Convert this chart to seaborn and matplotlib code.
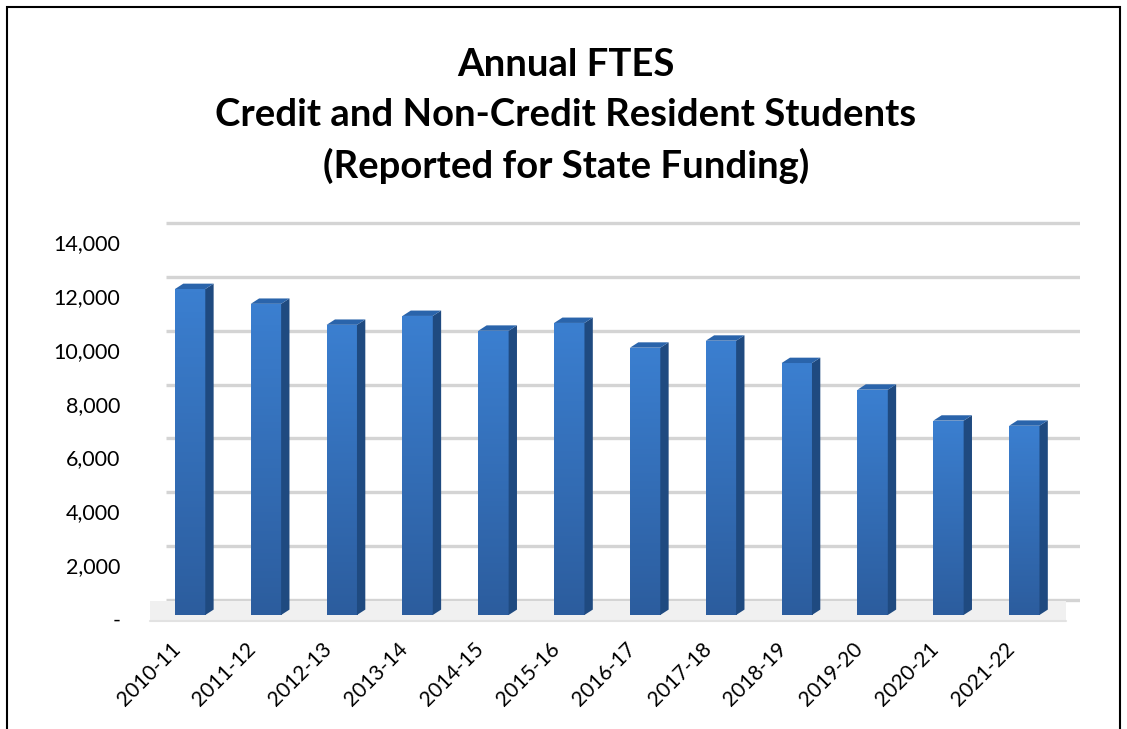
import numpy as np
import pandas as pd
import matplotlib
matplotlib.use("Agg")
import matplotlib.pyplot as plt
import matplotlib.transforms as mtransforms
from matplotlib.patches import Polygon, Rectangle
from matplotlib.colors import LinearSegmentedColormap
import seaborn as sns

years = ["2010-11", "2011-12", "2012-13", "2013-14", "2014-15", "2015-16",
         "2016-17", "2017-18", "2018-19", "2019-20", "2020-21", "2021-22"]
ftes = [12110, 11560, 10780, 11110, 10560, 10850,
        9930, 10190, 9360, 8370, 7220, 7030]
y_ticks = [0, 2000, 4000, 6000, 8000, 10000, 12000, 14000]
y_labels = ["-", "2,000", "4,000", "6,000", "8,000", "10,000", "12,000", "14,000"]

df = pd.DataFrame({"year": years, "ftes": ftes})

sns.set_style("white")
plt.rcParams["font.family"] = ["Lato", "DejaVu Sans"]
plt.rcParams["text.color"] = "black"
plt.rcParams["xtick.color"] = "black"
plt.rcParams["ytick.color"] = "black"

fig = plt.figure(figsize=(11.27, 7.29), dpi=100)
ax = fig.add_axes([0.129, 0.1427, 0.829, 0.558])

# back wall gridlines (sit a bit higher than the front plane, like the 3D original)
back = mtransforms.offset_copy(ax.get_yaxis_transform(), fig=fig, x=0, y=15, units="dots")
for t in y_ticks:
    ax.plot([0.022, 1.0], [t, t], color="#d4d4d4", lw=2.4, transform=back,
            zorder=0, solid_capstyle="butt")

# floor
ax.axhspan(-230, 520, xmin=0.005, xmax=0.985, color="#f0f0f0", zorder=0.5, lw=0)
ax.axhline(-230, xmin=0.005, xmax=0.985, color="#e2e2e2", lw=1.5, zorder=0.6)

sns.barplot(data=df, x="year", y="ftes", color="#3574c4", width=0.4,
            saturation=1, ax=ax, zorder=2)

grad = LinearSegmentedColormap.from_list("g", ["#2c5d9e", "#3b7fd0"])
dx = 0.11
dy = 200
for p in ax.containers[0]:
    x0, w, h = p.get_x(), p.get_width(), p.get_height()
    x1 = x0 + w
    p.set_edgecolor("none")
    img = ax.imshow(np.linspace(0, 1, 100).reshape(-1, 1), cmap=grad,
                    extent=[x0, x1, 0, h], origin="lower", aspect="auto",
                    zorder=2.1)
    img.set_clip_path(p)
    side = Polygon([(x1, 0), (x1 + dx, dy), (x1 + dx, h + dy), (x1, h)],
                   closed=True, facecolor="#1f4a80", edgecolor="none", zorder=2.2)
    top = Polygon([(x0, h), (x0 + dx, h + dy), (x1 + dx, h + dy), (x1, h)],
                  closed=True, facecolor="#2a64ab", edgecolor="none", zorder=2.2)
    ax.add_patch(side)
    ax.add_patch(top)

ax.set_xlim(-0.59, 11.73)
ax.set_ylim(-371, 14742)
ax.set_yticks(y_ticks)
ax.set_yticklabels(y_labels, fontsize=15.5)
ax.tick_params(axis="y", length=0, pad=18)
ax.tick_params(axis="x", length=0, pad=10)
shift_y = mtransforms.ScaledTranslation(0, -4 / 100, fig.dpi_scale_trans)
for lab in ax.get_yticklabels():
    lab.set_transform(lab.get_transform() + shift_y)
shift_x = mtransforms.ScaledTranslation(-20 / 100, 0, fig.dpi_scale_trans)
for lab in ax.get_xticklabels():
    lab.set_rotation(45)
    lab.set_ha("right")
    lab.set_rotation_mode("anchor")
    lab.set_fontsize(15)
    lab.set_transform(lab.get_transform() + shift_x)
ax.set_xlabel("")
ax.set_ylabel("")
for s in ax.spines.values():
    s.set_visible(False)

fig.text(0.502, 0.911, "Annual FTES", ha="center", va="center",
         fontsize=27.5, fontweight="bold")
fig.text(0.502, 0.842, "Credit and Non-Credit Resident Students", ha="center",
         va="center", fontsize=27.5, fontweight="bold")
fig.text(0.502, 0.772, "(Reported for State Funding)", ha="center",
         va="center", fontsize=27.5, fontweight="bold")

fig.patches.append(Rectangle((0.006, -0.01), 0.988, 1.0, transform=fig.transFigure,
                             fill=False, edgecolor="black", lw=1.5))

fig.savefig("out.png", dpi=100)
